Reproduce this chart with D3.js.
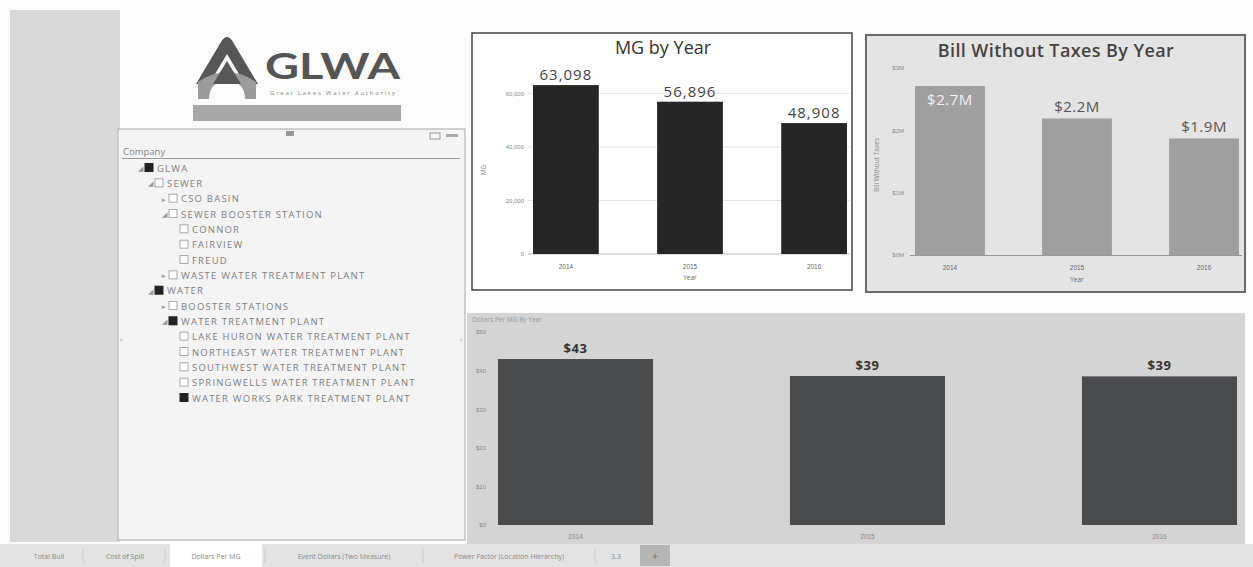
<!DOCTYPE html>
<html><head><meta charset="utf-8">
<script src="https://cdn.jsdelivr.net/npm/d3@7"></script>
<style>
html,body{margin:0;padding:0;background:#fbfbfb;}
svg{display:block;font-family:"Open Sans","DejaVu Sans",sans-serif;}
</style></head>
<body>
<svg id="c" width="1253" height="567"></svg>
<script>
// ---- data ----
const years = ["2014", "2015", "2016"];
const mgValues = [63098, 56896, 48908];
const mgTicks = [0, 20000, 40000, 60000];
const billValues = [2.71, 2.19, 1.87];            // $ millions
const billTicks = [0, 1, 2, 3];
const dollarsPerMG = [43.0, 38.6, 38.5];
const dpmTicks = [0, 10, 20, 30, 40, 50];
const treeItems = [
  {label: "GLWA", level: 0, state: "full", arrow: "open"},
  {label: "SEWER", level: 1, state: "empty", arrow: "open"},
  {label: "CSO BASIN", level: 2, state: "empty", arrow: "closed"},
  {label: "SEWER BOOSTER STATION", level: 2, state: "empty", arrow: "open"},
  {label: "CONNOR", level: 3, state: "empty", arrow: ""},
  {label: "FAIRVIEW", level: 3, state: "empty", arrow: ""},
  {label: "FREUD", level: 3, state: "empty", arrow: ""},
  {label: "WASTE WATER TREATMENT PLANT", level: 2, state: "empty", arrow: "closed"},
  {label: "WATER", level: 1, state: "full", arrow: "open"},
  {label: "BOOSTER STATIONS", level: 2, state: "empty", arrow: "closed"},
  {label: "WATER TREATMENT PLANT", level: 2, state: "full", arrow: "open"},
  {label: "LAKE HURON WATER TREATMENT PLANT", level: 3, state: "empty", arrow: ""},
  {label: "NORTHEAST WATER TREATMENT PLANT", level: 3, state: "empty", arrow: ""},
  {label: "SOUTHWEST WATER TREATMENT PLANT", level: 3, state: "empty", arrow: ""},
  {label: "SPRINGWELLS WATER TREATMENT PLANT", level: 3, state: "empty", arrow: ""},
  {label: "WATER WORKS PARK TREATMENT PLANT", level: 3, state: "full", arrow: ""}
];
const tabs = ["Total Bull", "Cost of Spill", "Dollars Per MG", "Event Dollars (Two Measure)", "Power Factor (Location Hierarchy)", "3.3"];

const svg = d3.select("#c");

// ---- left strip ----
svg.append("rect").attr("x", 10).attr("y", 10).attr("width", 110).attr("height", 532).attr("fill", "#d9d9d9");

// ---- logo ----
const logo = svg.append("g");
logo.append("path")
  .attr("d", "M196,84 L221,42 Q227,32 233,42 L258,84 L245,84 L227,54 L209,84 Z")
  .attr("fill", "#575757");
logo.append("path")
  .attr("d", "M198,82 Q227,62 256,82 L256,99 L245,99 Q245,82 227,80 Q209,82 209,99 L198,99 Z")
  .attr("fill", "#9b9b9b");
logo.append("path").attr("d", "M213,84 L227,61 L241,84 Z").attr("fill", "#575757");
logo.append("text").attr("x", 265).attr("y", 79).attr("font-size", 37).attr("font-weight", 700)
  .attr("fill", "#555").attr("font-family", "Lato, 'Open Sans', sans-serif")
  .attr("textLength", 135).attr("lengthAdjust", "spacingAndGlyphs").text("GLWA");
logo.append("text").attr("x", 270).attr("y", 95).attr("font-size", 6).attr("fill", "#888")
  .attr("textLength", 125).text("Great Lakes Water Authority");
svg.append("rect").attr("x", 193).attr("y", 105).attr("width", 208).attr("height", 16).attr("fill", "#a8a8a8");

// ---- tree slicer ----
svg.append("rect").attr("x", 118).attr("y", 129).attr("width", 347).attr("height", 411)
  .attr("fill", "#f4f4f4").attr("stroke", "#b5b5b5").attr("stroke-width", 1.2);
svg.append("rect").attr("x", 286).attr("y", 131).attr("width", 8).attr("height", 5).attr("fill", "#999");
svg.append("rect").attr("x", 430).attr("y", 133).attr("width", 10).attr("height", 6).attr("fill", "none").attr("stroke", "#999");
svg.append("rect").attr("x", 446).attr("y", 134).attr("width", 12).attr("height", 3).attr("fill", "#aaa");
svg.append("text").attr("x", 123).attr("y", 155).attr("font-size", 9.5).attr("fill", "#888").text("Company");
svg.append("line").attr("x1", 122).attr("x2", 460).attr("y1", 158.5).attr("y2", 158.5).attr("stroke", "#999");
svg.append("text").attr("x", 460).attr("y", 342).attr("font-size", 8).attr("fill", "#999").text("›");
svg.append("text").attr("x", 120).attr("y", 342).attr("font-size", 8).attr("fill", "#999").text("›");

const levelX = [145, 155, 169, 180];
const rowY = d3.scaleLinear().domain([0, 15]).range([168, 398]);
const tree = svg.append("g").selectAll("g").data(treeItems).join("g")
  .attr("transform", (d, i) => `translate(${levelX[d.level]},${rowY(i)})`);
tree.append("rect").attr("x", 0).attr("y", -4.5).attr("width", 8).attr("height", 8)
  .attr("fill", d => d.state === "full" ? "#222" : "#fff")
  .attr("stroke", d => d.state === "full" ? "#222" : "#aaa");
tree.filter(d => d.arrow).append("text").attr("x", -7).attr("y", 3).attr("font-size", 7).attr("fill", "#999")
  .text(d => d.arrow === "open" ? "◢" : "▸");
tree.append("text").attr("x", 12).attr("y", 3.5).attr("font-size", 9.5).attr("fill", "#808080")
  .attr("letter-spacing", 1.2).text(d => d.label);

// ---- chart 1: MG by Year ----
{
  const g = svg.append("g");
  g.append("rect").attr("x", 472).attr("y", 33).attr("width", 380).attr("height", 257)
    .attr("fill", "#fff").attr("stroke", "#444").attr("stroke-width", 1.5);
  const x = d3.scaleBand().domain(years).range([533, 847]).paddingInner(0.47).paddingOuter(0);
  const y = d3.scaleLinear().domain([0, 65000]).range([254, 80]);
  g.append("g").selectAll("line").data(mgTicks.slice(1)).join("line")
    .attr("x1", 528).attr("x2", 850).attr("y1", d => y(d)).attr("y2", d => y(d))
    .attr("stroke", "#e4e4e4");
  const ya = g.append("g").attr("transform", "translate(528,0)")
    .call(d3.axisLeft(y).tickValues(mgTicks).tickFormat(d3.format(",")).tickSize(0).tickPadding(4));
  ya.select(".domain").remove();
  ya.selectAll("text").attr("font-size", 6).attr("fill", "#888");
  g.append("line").attr("x1", 528).attr("x2", 850).attr("y1", y(0)).attr("y2", y(0)).attr("stroke", "#bbb");
  g.selectAll(".b").data(mgValues).join("rect").attr("class", "b")
    .attr("x", (d, i) => x(years[i])).attr("width", x.bandwidth())
    .attr("y", d => y(d)).attr("height", d => y(0) - y(d)).attr("fill", "#262626");
  g.selectAll(".v").data(mgValues).join("text").attr("class", "v")
    .attr("x", (d, i) => x(years[i]) + x.bandwidth() / 2).attr("y", d => y(d) - 5)
    .attr("text-anchor", "middle").attr("font-size", 15).attr("letter-spacing", 1).attr("fill", "#444")
    .text(d => d3.format(",")(d));
  const xa = g.append("g").attr("transform", `translate(0,${y(0) + 2})`)
    .call(d3.axisBottom(x).tickSize(0).tickPadding(8));
  xa.select(".domain").remove();
  xa.selectAll("text").attr("font-size", 6.5).attr("fill", "#666");
  g.append("text").attr("x", x("2015") + x.bandwidth() / 2).attr("y", 280).attr("text-anchor", "middle")
    .attr("font-size", 6.5).attr("fill", "#666").text("Year");
  g.append("text").attr("transform", "translate(486,170) rotate(-90)").attr("text-anchor", "middle")
    .attr("font-size", 6.5).attr("fill", "#888").text("MG");
  g.append("text").attr("x", 663).attr("y", 54).attr("text-anchor", "middle").attr("font-size", 18)
    .attr("fill", "#333").text("MG by Year");
}

// ---- chart 2: Bill Without Taxes By Year ----
{
  const g = svg.append("g");
  g.append("rect").attr("x", 866).attr("y", 35).attr("width", 379).attr("height", 257)
    .attr("fill", "#e4e4e4").attr("stroke", "#6a6a6a").attr("stroke-width", 2);
  const x = d3.scaleBand().domain(years).range([915, 1239]).paddingInner(0.45).paddingOuter(0);
  const y = d3.scaleLinear().domain([0, 3]).range([255, 68]);
  const ya = g.append("g").attr("transform", "translate(908,0)")
    .call(d3.axisLeft(y).tickValues(billTicks).tickFormat(d => "$" + d + "M").tickSize(0).tickPadding(4));
  ya.select(".domain").remove();
  ya.selectAll("text").attr("font-size", 6).attr("fill", "#888");
  g.append("line").attr("x1", 910).attr("x2", 1242).attr("y1", y(0) + 0.5).attr("y2", y(0) + 0.5).attr("stroke", "#999");
  g.selectAll(".b").data(billValues).join("rect").attr("class", "b")
    .attr("x", (d, i) => x(years[i])).attr("width", x.bandwidth())
    .attr("y", d => y(d)).attr("height", d => y(0) - y(d)).attr("fill", "#9f9f9f");
  g.selectAll(".v").data(billValues).join("text").attr("class", "v")
    .attr("x", (d, i) => x(years[i]) + x.bandwidth() / 2)
    .attr("y", (d, i) => i === 0 ? y(d) + 19 : y(d) - 6)
    .attr("text-anchor", "middle").attr("font-size", 15).attr("letter-spacing", 0.5)
    .attr("fill", (d, i) => i === 0 ? "#f2f2f2" : "#555")
    .text(d => "$" + d3.format(".1f")(d) + "M");
  const xa = g.append("g").attr("transform", `translate(0,${y(0) + 2})`)
    .call(d3.axisBottom(x).tickSize(0).tickPadding(8));
  xa.select(".domain").remove();
  xa.selectAll("text").attr("font-size", 6.5).attr("fill", "#666");
  g.append("text").attr("x", x("2015") + x.bandwidth() / 2).attr("y", 282).attr("text-anchor", "middle")
    .attr("font-size", 6.5).attr("fill", "#666").text("Year");
  g.append("text").attr("transform", "translate(879,165) rotate(-90)").attr("text-anchor", "middle")
    .attr("font-size", 6.5).attr("fill", "#888").text("Bill Without Taxes");
  g.append("text").attr("x", 1056).attr("y", 57).attr("text-anchor", "middle").attr("font-size", 18)
    .attr("font-weight", 600).attr("letter-spacing", 0.4).attr("fill", "#444").text("Bill Without Taxes By Year");
}

// ---- chart 3: Dollars Per MG By Year ----
{
  const g = svg.append("g");
  g.append("rect").attr("x", 467).attr("y", 313).attr("width", 778).attr("height", 233)
    .attr("fill", "#d4d4d4");
  const x = d3.scaleBand().domain(years).range([498, 1237]).paddingInner(0.469).paddingOuter(0);
  const y = d3.scaleLinear().domain([0, 50]).range([525, 332]);
  const ya = g.append("g").attr("transform", "translate(490,0)")
    .call(d3.axisLeft(y).tickValues(dpmTicks).tickFormat(d => "$" + d).tickSize(0).tickPadding(4));
  ya.select(".domain").remove();
  ya.selectAll("text").attr("font-size", 6).attr("fill", "#888");
  g.selectAll(".b").data(dollarsPerMG).join("rect").attr("class", "b")
    .attr("x", (d, i) => x(years[i])).attr("width", x.bandwidth())
    .attr("y", d => y(d)).attr("height", d => y(0) - y(d)).attr("fill", "#4a4b4d");
  g.selectAll(".v").data(dollarsPerMG).join("text").attr("class", "v")
    .attr("x", (d, i) => x(years[i]) + x.bandwidth() / 2).attr("y", d => y(d) - 6)
    .attr("text-anchor", "middle").attr("font-size", 13).attr("font-weight", 700).attr("letter-spacing", 0.5).attr("fill", "#333")
    .text(d => "$" + d3.format(".0f")(d));
  const xa = g.append("g").attr("transform", `translate(0,${y(0) + 2})`)
    .call(d3.axisBottom(x).tickSize(0).tickPadding(7));
  xa.select(".domain").remove();
  xa.selectAll("text").attr("font-size", 6.5).attr("fill", "#888");
  g.append("text").attr("x", 472).attr("y", 322).attr("font-size", 6.5).attr("fill", "#999")
    .text("Dollars Per MG By Year");
}

// ---- tabs ----
{
  const g = svg.append("g");
  g.append("rect").attr("x", 0).attr("y", 544).attr("width", 1253).attr("height", 23).attr("fill", "#e3e3e3");
  const tabX = [[18, 80], [88, 162], [170, 262], [268, 420], [426, 592], [600, 632]];
  tabX.forEach((t, i) => {
    if (i === 2) g.append("rect").attr("x", t[0]).attr("y", 544).attr("width", t[1] - t[0]).attr("height", 23).attr("fill", "#fff");
    g.append("text").attr("x", (t[0] + t[1]) / 2).attr("y", 559).attr("text-anchor", "middle")
      .attr("font-size", 7).attr("fill", "#888").text(tabs[i]);
    if (i < 5) g.append("line").attr("x1", t[1] + 3).attr("x2", t[1] + 3).attr("y1", 549).attr("y2", 562).attr("stroke", "#ccc");
  });
  g.append("rect").attr("x", 640).attr("y", 545).attr("width", 30).attr("height", 21).attr("fill", "#b5b5b5");
  g.append("text").attr("x", 655).attr("y", 560).attr("text-anchor", "middle").attr("font-size", 11)
    .attr("fill", "#666").text("+");
}
</script>
</body></html>
